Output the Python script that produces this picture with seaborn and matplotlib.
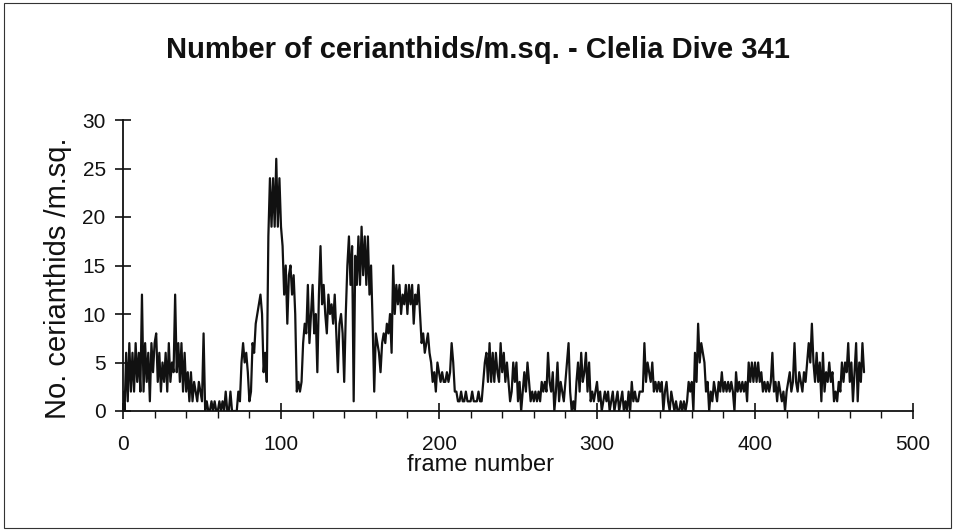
import numpy as np
import pandas as pd
import matplotlib
matplotlib.use("Agg")
import matplotlib.pyplot as plt
from matplotlib.ticker import MultipleLocator
from matplotlib.patches import Rectangle
import seaborn as sns

# --- data (one value per frame, frames 0..469) ---
counts_000 = [2, 0, 6, 1, 7, 2, 6, 2, 7, 3]
counts_010 = [6, 2, 12, 2, 7, 3, 6, 1, 7, 4]
counts_020 = [7, 8, 3, 6, 2, 5, 3, 6, 2, 7]
counts_030 = [3, 5, 4, 12, 4, 7, 3, 7, 2, 6]
counts_040 = [2, 4, 1, 4, 1, 3, 2, 1, 3, 2]
counts_050 = [1, 8, 0, 1, 0, 0, 1, 0, 1, 0]
counts_060 = [0, 1, 0, 1, 0, 2, 0, 0, 2, 0]
counts_070 = [0, 0, 0, 2, 1, 5, 7, 5, 6, 4]
counts_080 = [1, 2, 7, 6, 9, 10, 11, 12, 10, 4]
counts_090 = [6, 3, 18, 24, 19, 24, 19, 26, 19, 24]
counts_100 = [19, 17, 12, 15, 9, 14, 15, 12, 14, 10]
counts_110 = [2, 3, 2, 3, 7, 9, 8, 13, 7, 10]
counts_120 = [13, 8, 10, 4, 12, 17, 11, 13, 10, 8]
counts_130 = [12, 10, 11, 9, 12, 8, 4, 9, 10, 8]
counts_140 = [3, 10, 15, 18, 13, 17, 1, 16, 13, 18]
counts_150 = [13, 19, 14, 18, 13, 18, 12, 15, 9, 2]
counts_160 = [8, 7, 6, 4, 7, 8, 7, 9, 8, 10]
counts_170 = [6, 15, 10, 13, 11, 13, 10, 12, 11, 13]
counts_180 = [10, 13, 11, 13, 9, 12, 11, 13, 10, 7]
counts_190 = [8, 6, 7, 8, 6, 5, 3, 4, 2, 5]
counts_200 = [4, 3, 4, 3, 3, 4, 3, 4, 7, 5]
counts_210 = [2, 2, 1, 1, 2, 1, 1, 2, 1, 1]
counts_220 = [1, 2, 1, 1, 1, 2, 1, 1, 3, 5]
counts_230 = [6, 3, 7, 3, 6, 3, 6, 4, 3, 7]
counts_240 = [4, 6, 3, 5, 3, 1, 2, 5, 3, 5]
counts_250 = [1, 3, 0, 2, 4, 2, 5, 3, 1, 2]
counts_260 = [1, 2, 1, 2, 1, 3, 2, 3, 2, 6]
counts_270 = [3, 2, 4, 0, 2, 5, 1, 3, 2, 1]
counts_280 = [3, 5, 7, 2, 0, 1, 0, 3, 5, 2]
counts_290 = [6, 3, 4, 6, 2, 5, 1, 2, 1, 2]
counts_300 = [3, 1, 2, 0, 1, 2, 1, 2, 0, 1]
counts_310 = [2, 0, 1, 2, 0, 1, 2, 0, 1, 0]
counts_320 = [2, 0, 3, 1, 2, 1, 1, 2, 2, 2]
counts_330 = [7, 3, 5, 4, 3, 5, 2, 3, 2, 3]
counts_340 = [2, 3, 0, 2, 3, 1, 0, 2, 1, 0]
counts_350 = [1, 0, 0, 1, 0, 1, 0, 1, 3, 2]
counts_360 = [3, 0, 6, 3, 9, 5, 7, 6, 5, 2]
counts_370 = [3, 0, 2, 1, 3, 2, 1, 3, 2, 4]
counts_380 = [2, 3, 2, 3, 2, 3, 2, 0, 4, 2]
counts_390 = [3, 2, 3, 2, 3, 1, 5, 3, 5, 3]
counts_400 = [5, 3, 5, 3, 4, 2, 3, 2, 3, 2]
counts_410 = [3, 6, 2, 3, 1, 3, 2, 1, 2, 0]
counts_420 = [2, 3, 4, 2, 3, 7, 3, 2, 4, 3]
counts_430 = [2, 4, 3, 5, 7, 5, 9, 5, 3, 6]
counts_440 = [3, 5, 1, 6, 2, 4, 3, 5, 3, 4]
counts_450 = [1, 2, 1, 3, 2, 5, 3, 5, 4, 7]
counts_460 = [3, 5, 1, 4, 7, 1, 5, 3, 7, 4]

counts = (counts_000 + counts_010 + counts_020 + counts_030 + counts_040 + counts_050
          + counts_060 + counts_070 + counts_080 + counts_090 + counts_100 + counts_110
          + counts_120 + counts_130 + counts_140 + counts_150 + counts_160 + counts_170
          + counts_180 + counts_190 + counts_200 + counts_210 + counts_220 + counts_230
          + counts_240 + counts_250 + counts_260 + counts_270 + counts_280 + counts_290
          + counts_300 + counts_310 + counts_320 + counts_330 + counts_340 + counts_350
          + counts_360 + counts_370 + counts_380 + counts_390 + counts_400 + counts_410
          + counts_420 + counts_430 + counts_440 + counts_450 + counts_460)
frames = list(range(len(counts)))

title = "Number of cerianthids/m.sq. - Clelia Dive 341"
xlabel = "frame number"
ylabel = "No. cerianthids /m.sq."
x_ticks = [0, 100, 200, 300, 400, 500]
y_ticks = [0, 5, 10, 15, 20, 25, 30]

df = pd.DataFrame({"frame": frames, "count": counts})

sns.set_theme(style="ticks")
plt.rcParams["font.family"] = ["Liberation Sans", "DejaVu Sans"]

fig = plt.figure(figsize=(9.55, 5.31), dpi=100)
ax = fig.add_axes([123 / 955, 1 - 411 / 531, (913 - 123) / 955, (411 - 120) / 531])

sns.lineplot(data=df, x="frame", y="count", ax=ax, color="#111111", linewidth=1.6,
             estimator=None)

ax.set_xlim(0, 500)
ax.set_ylim(0, 30)
ax.set_xticks(x_ticks)
ax.set_yticks(y_ticks)
ax.xaxis.set_minor_locator(MultipleLocator(20))
ax.set_xlabel("")
ax.set_ylabel("")
sns.despine(ax=ax)
for s in ["left", "bottom"]:
    ax.spines[s].set_color("#111111")
    ax.spines[s].set_linewidth(1.3)
ax.tick_params(axis="both", which="major", direction="inout", length=11, width=1.2,
               colors="#111111", labelsize=15)
ax.tick_params(axis="x", which="minor", direction="out", length=5, width=1.0,
               colors="#111111")
ax.tick_params(axis="x", which="major", pad=12)
ax.tick_params(axis="y", which="major", pad=7)
for lab in ax.get_xticklabels() + ax.get_yticklabels():
    lab.set_color("#111111")

fig.text(0.5, 1 - 50 / 531, title, ha="center", va="center", fontsize=21,
         fontweight="bold", color="#111111")
fig.text(480 / 955, 1 - 465 / 531, xlabel, ha="center", va="center", fontsize=17,
         color="#111111")
fig.text(58 / 955, 1 - 278 / 531, ylabel, ha="center", va="center", fontsize=21,
         rotation=90, color="#111111")

fig.patches.append(Rectangle((4 / 955, 3 / 531), 947 / 955, 525 / 531,
                             transform=fig.transFigure, fill=False,
                             edgecolor="#333333", linewidth=0.8))

fig.savefig("out.png", dpi=100)
